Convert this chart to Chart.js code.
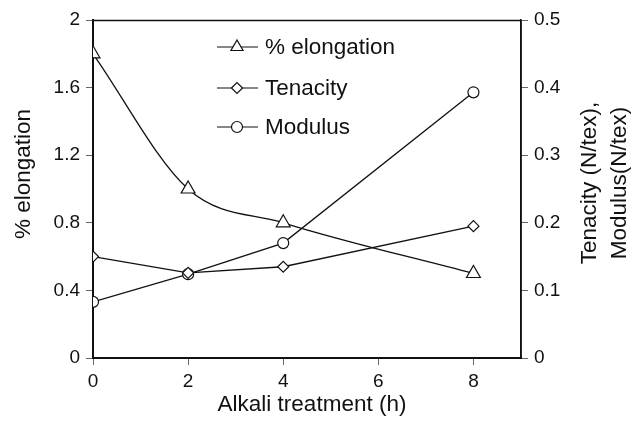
<!DOCTYPE html>
<html>
<head>
<meta charset="utf-8">
<script src="https://cdn.jsdelivr.net/npm/chart.js@4/dist/chart.umd.min.js"></script>
<style>
  html, body { margin: 0; padding: 0; background: #fff; }
  #wrap { width: 641px; height: 431px; position: relative; }
</style>
</head>
<body>
<div id="wrap"><canvas id="c" width="641" height="431"></canvas></div>
<script>
// Alkali treatment time (h)
const hours = [0, 2, 4, 8];
// % elongation (left axis)
const elongation = [1.8, 1.0, 0.8, 0.5];
// Tenacity and modulus, N/tex (right axis)
const tenacity = [0.15, 0.126, 0.135, 0.195];
const modulus = [0.083, 0.124, 0.170, 0.393];
// Axis tick values
const xTicks = [0, 2, 4, 6, 8];
const leftTicks = [0, 0.4, 0.8, 1.2, 1.6, 2];
const rightTicks = [0, 0.1, 0.2, 0.3, 0.4, 0.5];

const FONT = "'Liberation Sans', Arial, sans-serif";
const INK = '#111';

const toXY = (xs, ys) => xs.map((x, i) => ({ x: x, y: ys[i] }));

const markerBase = {
  borderColor: INK,
  backgroundColor: '#fff',
  pointBackgroundColor: '#fff',
  pointBorderColor: INK,
  pointBorderWidth: 1.2,
  borderWidth: 1.3,
  fill: false
};

const series = [
  Object.assign({}, markerBase, {
    label: '% elongation', data: toXY(hours, elongation), yAxisID: 'y',
    pointStyle: 'triangle', pointRadius: 8, cubicInterpolationMode: 'monotone'
  }),
  Object.assign({}, markerBase, {
    label: 'Tenacity', data: toXY(hours, tenacity), yAxisID: 'y1',
    pointStyle: 'rectRot', pointRadius: 5.5, tension: 0
  }),
  Object.assign({}, markerBase, {
    label: 'Modulus', data: toXY(hours, modulus), yAxisID: 'y1',
    pointStyle: 'circle', pointRadius: 5.5, tension: 0
  })
];

// Frame, axis titles and the in-plot legend
const decorations = {
  id: 'decorations',
  afterDraw(chart) {
    const ctx = chart.ctx;
    const a = chart.chartArea;
    ctx.save();
    ctx.strokeStyle = INK;
    // top and right frame edges
    ctx.lineWidth = 1.5;
    ctx.beginPath();
    ctx.moveTo(a.left, a.top + 0.5);
    ctx.lineTo(a.right, a.top + 0.5);
    ctx.moveTo(a.right, a.top);
    ctx.lineTo(a.right, a.bottom);
    ctx.stroke();

    ctx.fillStyle = INK;
    ctx.font = '22.5px ' + FONT;
    ctx.textAlign = 'center';
    ctx.textBaseline = 'middle';
    // x title
    ctx.fillText('Alkali treatment (h)', 312, 405);
    // left title
    ctx.save();
    ctx.translate(24, 174);
    ctx.rotate(-Math.PI / 2);
    ctx.fillText('% elongation', 0, 0);
    ctx.restore();
    // right title, two lines
    ctx.save();
    ctx.translate(590, 183);
    ctx.rotate(-Math.PI / 2);
    ctx.fillText('Tenacity (N/tex),', 0, 0);
    ctx.fillText('Modulus(N/tex)', 0, 30);
    ctx.restore();

    // legend
    const lx0 = 217, lx1 = 258, mx = 237, tx = 265;
    const rows = [47, 88, 127];
    series.forEach((ds, i) => {
      const y = rows[i];
      ctx.lineWidth = 1.2;
      ctx.beginPath();
      ctx.moveTo(lx0, y);
      ctx.lineTo(lx1, y);
      ctx.stroke();
      ctx.fillStyle = '#fff';
      Chart.helpers.drawPoint(ctx, {
        pointStyle: ds.pointStyle,
        radius: ds.pointStyle === 'triangle' ? 7 : 5.5,
        rotation: 0,
        borderWidth: 1.2
      }, mx, y);
      ctx.fillStyle = INK;
      ctx.textAlign = 'left';
      ctx.fillText(ds.label, tx, y + 1);
    });
    ctx.restore();
  }
};

const tickFont = { family: FONT, size: 19 };

new Chart(document.getElementById('c'), {
  type: 'line',
  data: { datasets: series },
  options: {
    responsive: false,
    animation: false,
    devicePixelRatio: 1,
    layout: { padding: { top: 20, left: 0, right: 0, bottom: 0 } },
    plugins: { legend: { display: false }, tooltip: { enabled: false } },
    scales: {
      x: {
        type: 'linear', min: 0, max: 9,
        afterFit: s => { s.height = 73; },
        afterBuildTicks: s => { s.ticks = xTicks.map(v => ({ value: v })); },
        border: { display: true, color: INK, width: 2 },
        grid: { display: true, drawOnChartArea: false, drawTicks: true, tickLength: 7, color: '#666', lineWidth: 1 },
        ticks: { color: INK, font: tickFont, padding: 5 }
      },
      y: {
        position: 'left', min: 0, max: 2,
        afterFit: s => { s.width = 93; },
        afterBuildTicks: s => { s.ticks = leftTicks.map(v => ({ value: v })); },
        border: { display: true, color: INK, width: 2 },
        grid: { display: true, drawOnChartArea: false, drawTicks: true, tickLength: 7, color: '#666', lineWidth: 1 },
        ticks: { color: INK, font: tickFont, padding: 6, callback: v => String(v) }
      },
      y1: {
        position: 'right', min: 0, max: 0.5,
        afterFit: s => { s.width = 120; },
        afterBuildTicks: s => { s.ticks = rightTicks.map(v => ({ value: v })); },
        border: { display: true, color: INK, width: 1.5 },
        grid: { display: true, drawOnChartArea: false, drawTicks: true, tickLength: 7, color: '#666', lineWidth: 1 },
        ticks: { color: INK, font: tickFont, padding: 6, callback: v => String(v) }
      }
    }
  },
  plugins: [decorations]
});
</script>
</body>
</html>
